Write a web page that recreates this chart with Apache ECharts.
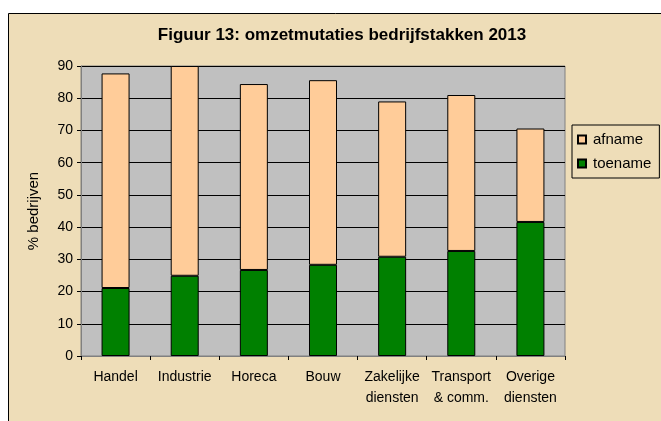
<!DOCTYPE html>
<html>
<head>
<meta charset="utf-8">
<script src="https://cdn.jsdelivr.net/npm/echarts@6/dist/echarts.min.js"></script>
<style>
  html, body { margin: 0; padding: 0; background: #fff; }
  #chart { width: 661px; height: 421px; }
</style>
</head>
<body>
<div id="chart"></div>
<script>
// sectoren en percentages
const categories = ['Handel', 'Industrie', 'Horeca', 'Bouw', 'Zakelijke\ndiensten', 'Transport\n& comm.', 'Overige\ndiensten']
const toename = [21.1, 24.9, 26.7, 28.3, 30.8, 32.6, 41.6]
const afname = [66.6, 65.1, 57.7, 57.3, 48.2, 48.4, 29.0]
const yTicks = { min: 0, max: 90, interval: 10 }

const font = 'Liberation Sans, Arial, sans-serif'

const chart = echarts.init(document.getElementById('chart'), null, { renderer: 'canvas' })

const option = {
    backgroundColor: '#ffffff',
    animation: false,
    textStyle: { fontFamily: font },
    graphic: [
        {
            type: 'rect',
            z: -100,
            shape: { x: 8.5, y: 13.5, width: 700, height: 500 },
            style: { fill: '#EEDDB8', stroke: '#000', lineWidth: 1 }
        }
    ],
    title: {
        text: 'Figuur 13: omzetmutaties bedrijfstakken 2013',
        left: 337,
        top: 22,
        textAlign: 'center',
        textStyle: { fontFamily: font, fontSize: 17, fontWeight: 'bold', color: '#000' }
    },
    legend: {
        orient: 'vertical',
        left: 572,
        top: 125,
        width: 88,
        padding: [7, 8, 7, 5],
        itemWidth: 8,
        itemHeight: 8,
        itemGap: 9,
        icon: 'rect',
        borderColor: '#000',
        borderWidth: 1,
        data: ['afname', 'toename'],
        textStyle: { fontFamily: font, fontSize: 15, color: '#000', padding: [0, 0, 0, 2] }
    },
    grid: {
        left: 81,
        top: 66,
        width: 484,
        height: 290,
        show: true,
        backgroundColor: '#C0C0C0',
        borderColor: '#808080',
        borderWidth: 1
    },
    xAxis: {
        type: 'category',
        data: categories,
        axisLine: { lineStyle: { color: '#808080', width: 1 } },
        axisTick: { show: true, length: 4, lineStyle: { color: '#000' } },
        axisLabel: {
            color: '#000',
            fontSize: 14,
            fontFamily: font,
            lineHeight: 21,
            margin: 11,
            interval: 0
        }
    },
    yAxis: {
        type: 'value',
        ...yTicks,
        name: '% bedrijven',
        nameLocation: 'middle',
        nameGap: 40,
        nameTextStyle: { fontFamily: font, fontSize: 15, color: '#000' },
        axisLine: { show: true, lineStyle: { color: '#808080' } },
        axisTick: { show: true, length: 4, lineStyle: { color: '#000' } },
        axisLabel: { color: '#000', fontSize: 14, fontFamily: font, margin: 8 },
        splitLine: { show: true, lineStyle: { color: '#000', width: 1 } }
    },
    series: [
        {
            name: 'toename',
            type: 'bar',
            stack: 'totaal',
            barWidth: 28,
            data: toename,
            itemStyle: { color: '#008000', borderColor: '#000', borderWidth: 1 }
        },
        {
            name: 'afname',
            type: 'bar',
            stack: 'totaal',
            barWidth: 28,
            data: afname,
            itemStyle: { color: '#FFCC99', borderColor: '#000', borderWidth: 1 }
        }
    ]
}

chart.setOption(option)
</script>
</body>
</html>
